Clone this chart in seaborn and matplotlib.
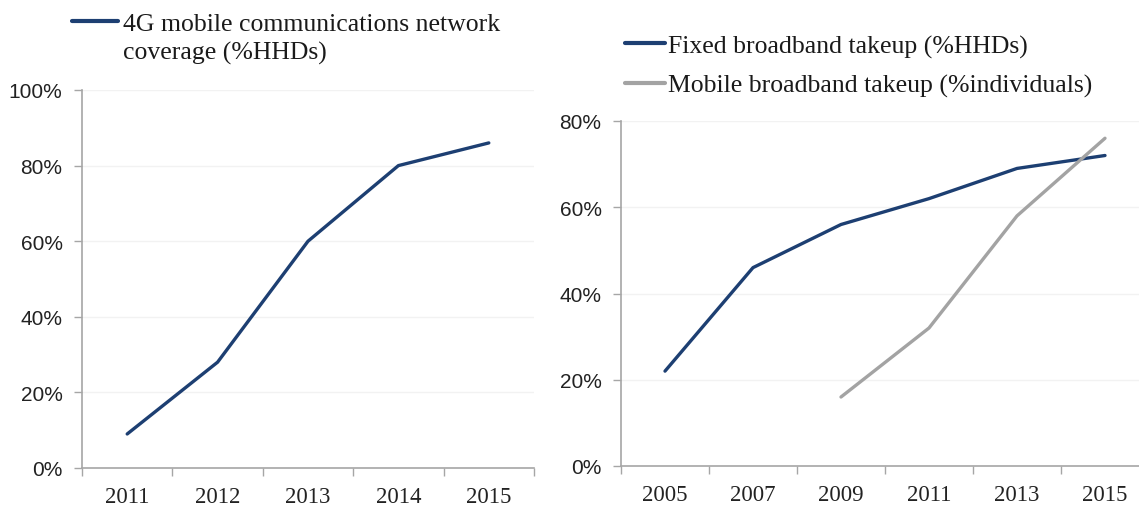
import matplotlib
matplotlib.use("Agg")
import matplotlib.pyplot as plt
import seaborn as sns
import pandas as pd
import numpy as np
from matplotlib.ticker import PercentFormatter, FixedLocator
from matplotlib.lines import Line2D

# ---- data ----
years_4g = ["2011", "2012", "2013", "2014", "2015"]
coverage_4g = [9, 28, 60, 80, 86]

years_bb = ["2005", "2007", "2009", "2011", "2013", "2015"]
fixed_bb = [22, 46, 56, 62, 69, 72]
mobile_bb = [np.nan, np.nan, 16, 32, 58, 76]

label_4g_line1 = "4G mobile communications network"
label_4g_line2 = "coverage (%HHDs)"
label_fixed = "Fixed broadband takeup (%HHDs)"
label_mobile = "Mobile broadband takeup (%individuals)"

NAVY = "#1d3f72"
GREY = "#a3a3a3"
AXC = "#a6a6a6"

sns.set_theme(style="white")
plt.rcParams["font.family"] = ["Liberation Sans", "DejaVu Sans"]

fig = plt.figure(figsize=(11.39, 5.10), dpi=100)
ax1 = fig.add_axes([82/1139, 41/510, 452/1139, 378/510])
ax2 = fig.add_axes([621/1139, 43/510, 528/1139, 345/510])

df1 = pd.DataFrame({"year": years_4g, "value": coverage_4g,
                    "series": label_4g_line1 + " " + label_4g_line2})
df2 = pd.concat([
    pd.DataFrame({"year": years_bb, "value": fixed_bb, "series": label_fixed}),
    pd.DataFrame({"year": years_bb, "value": mobile_bb, "series": label_mobile}),
], ignore_index=True).dropna()

sns.lineplot(data=df1, x="year", y="value", hue="series", palette=[NAVY],
             linewidth=2.4, ax=ax1, legend=False, sort=False)
sns.lineplot(data=df2, x="year", y="value", hue="series", palette=[NAVY, GREY],
             linewidth=2.4, ax=ax2, legend=False, sort=False)

serif = ["Liberation Serif", "DejaVu Serif"]
LEG_SIZE = 18.5

def style(ax, n, ymax, ystep):
    ax.set_xlim(-0.5, n - 0.5)
    ax.set_ylim(0, ymax)
    ax.set_xlabel("")
    ax.set_ylabel("")
    ax.yaxis.set_major_locator(FixedLocator(np.arange(0, ymax + 0.1, ystep)))
    ax.yaxis.set_major_formatter(PercentFormatter(decimals=0))
    ax.xaxis.set_minor_locator(FixedLocator(np.arange(-0.5, n, 1.0)))
    ax.tick_params(axis="x", which="major", length=0, pad=13, labelsize=16.5,
                   labelcolor="#222222")
    ax.tick_params(axis="x", which="minor", length=6, width=1, color=AXC,
                   direction="out", bottom=True)
    ax.tick_params(axis="y", which="major", length=6, width=1, color=AXC,
                   direction="out", left=True, labelsize=15, labelcolor="#222222",
                   pad=8)
    for lab in ax.get_xticklabels():
        lab.set_fontfamily(serif)
    ax.grid(axis="y", color="#f2f2f2", linewidth=1)
    for s in ["top", "right"]:
        ax.spines[s].set_visible(False)
    for s in ["left", "bottom"]:
        ax.spines[s].set_color(AXC)
        ax.spines[s].set_linewidth(1.2)

style(ax1, len(years_4g), 100, 20)
style(ax2, len(years_bb), 80, 20)

fpx = LEG_SIZE * 100 / 72.0
h1 = [Line2D([], [], color=NAVY, linewidth=3)]
fig.legend(h1, [label_4g_line1], loc="upper left",
           bbox_to_anchor=((72 - 0.4 * fpx) / 1139, 1 - 3 / 510),
           frameon=False, prop={"family": serif, "size": LEG_SIZE},
           handlelength=46 / fpx, handletextpad=5 / fpx, borderaxespad=0)
fig.text(123 / 1139, 1 - 53 / 510, label_4g_line2, ha="left", va="center",
         family=serif, fontsize=LEG_SIZE, color="#1a1a1a")

h2 = [Line2D([], [], color=NAVY, linewidth=3), Line2D([], [], color=GREY, linewidth=3)]
fig.legend(h2, [label_fixed, label_mobile], loc="upper left",
           bbox_to_anchor=((625 - 0.4 * fpx) / 1139, 1 - 25 / 510),
           frameon=False, prop={"family": serif, "size": LEG_SIZE},
           handlelength=40 / fpx, handletextpad=3 / fpx, labelspacing=0.62,
           borderaxespad=0)

for leg in fig.legends:
    for t in leg.get_texts():
        t.set_color("#1a1a1a")

fig.savefig("out.png", dpi=100)
